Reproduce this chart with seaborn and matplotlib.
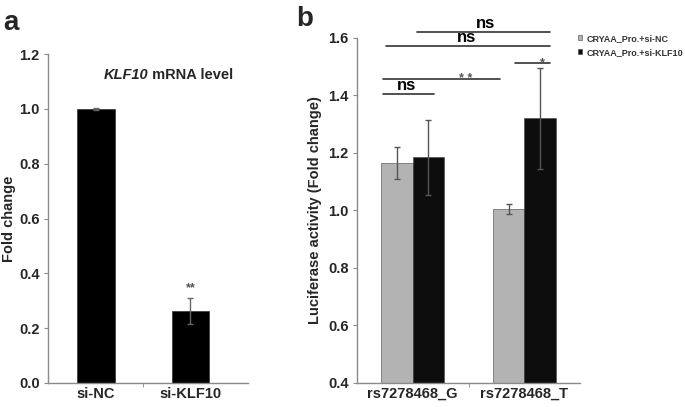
import pandas as pd
import numpy as np
import seaborn as sns
import matplotlib.pyplot as plt

# panel a data
groups_a = ["si-NC", "si-KLF10"]
fold_a = [1.0, 0.262]
err_a = [0.003, 0.047]

# panel b data
alleles = ["rs7278468_G", "rs7278468_T"]
conditions = ["CRYAA_Pro.+si-NC", "CRYAA_Pro.+si-KLF10"]
luc_nc = [1.165, 1.005]
luc_klf = [1.185, 1.32]
err_nc = [0.057, 0.018]
err_klf = [0.13, 0.175]

sns.set_style("white")
plt.rcParams['font.family'] = ['Liberation Sans', 'DejaVu Sans']
plt.rcParams['font.weight'] = 'bold'

fig = plt.figure(figsize=(6.85, 4.07), dpi=100)
ax1 = fig.add_axes([0.070, 0.059, 0.292, 0.808])
ax2 = fig.add_axes([0.521, 0.059, 0.326, 0.848])

spine_col = "#8a8a8a"

# ---- panel a ----
df_a = pd.DataFrame({"group": groups_a, "fold": fold_a})
sns.barplot(data=df_a, x="group", y="fold", color="black", width=0.4,
            errorbar=None, ax=ax1, edgecolor="#333333", linewidth=0.5)
ax1.errorbar(range(len(groups_a)), fold_a, yerr=err_a, fmt="none",
             ecolor="#666666", elinewidth=1, capsize=2.5, capthick=1)
ax1.set_ylim(0, 1.2)
ax1.set_xlim(-0.51, 1.61)
ax1.set_yticks(np.arange(0, 1.21, 0.2))
ax1.set_yticklabels([f"{v:.1f}" for v in np.arange(0, 1.21, 0.2)])
ax1.set_xlabel("")
ax1.set_ylabel("Fold change", fontsize=10.5, fontweight="bold")
ax1.yaxis.set_label_coords(-0.16, 0.5)
t1 = ax1.text(0.08, 1.11, "KLF10", fontsize=10.5, fontweight="bold", style="italic")
ax1.annotate(" mRNA level", xy=(1, 0), xycoords=t1, va="bottom",
             fontsize=10.5, fontweight="bold")
ax1.text(1, fold_a[1] + err_a[1] + 0.015, "**", ha="center", va="bottom",
         fontsize=9, color="#555555")

# ---- panel b ----
df_b = pd.DataFrame({
    "allele": alleles * 2,
    "condition": [conditions[0]] * 2 + [conditions[1]] * 2,
    "value": luc_nc + luc_klf,
})
sns.barplot(data=df_b, x="allele", y="value", hue="condition",
            palette=["#b3b3b3", "#0d0d0d"], width=0.56, errorbar=None,
            ax=ax2, edgecolor="#444444", linewidth=0.4)
vals = luc_nc + luc_klf
errs = err_nc + err_klf
bars = [p for p in ax2.patches if p.get_width() > 0][:4]
xs = [p.get_x() + p.get_width() / 2 for p in bars]
ax2.errorbar(xs, vals, yerr=errs, fmt="none", ecolor="#555555",
             elinewidth=1, capsize=2.5, capthick=1)
xg_nc, xt_nc, xg_k, xt_k = xs
ax2.set_ylim(0.4, 1.6)
ax2.set_xlim(-0.5, 1.5)
ax2.set_yticks(np.arange(0.4, 1.61, 0.2))
ax2.set_yticklabels([f"{v:.1f}" for v in np.arange(0.4, 1.61, 0.2)])
ax2.set_xlabel("")
ax2.set_ylabel("Luciferase activity (Fold change)", fontsize=10.5,
               fontweight="bold")
ax2.yaxis.set_label_coords(-0.157, 0.5)

# significance brackets
sig = [
    (xg_nc - 0.13, xg_k + 0.05, 1.405, "ns", 12, "black", -0.02, 0.012),
    (xg_nc - 0.13, xt_nc - 0.08, 1.457, "* *", 9, "#555555", 0.22, -0.010),
    (xt_k - 0.22, xt_k + 0.09, 1.513, "*", 9, "#555555", 0.09, -0.010),
    (xg_nc - 0.1, xt_k + 0.09, 1.572, "ns", 12, "black", -0.01, 0.012),
    (xg_k - 0.1, xt_k + 0.09, 1.622, "ns", 12, "black", 0.02, 0.012),
]
for x0, x1, y, lab, fs, col, dx, dy in sig:
    ax2.plot([x0, x1], [y, y], color="#333333", lw=1.2, clip_on=False)
    ax2.text((x0 + x1) / 2 + dx, y + dy, lab, ha="center", va="baseline",
             fontsize=fs, fontweight="bold", color=col, clip_on=False)

leg = ax2.legend(loc="upper left", bbox_to_anchor=(0.96, 1.03), frameon=False,
                 fontsize=6.5, handlelength=0.5, handleheight=0.5,
                 handletextpad=0.5, labelspacing=0.55, borderaxespad=0.3)
for txt in leg.get_texts():
    txt.set_fontweight("bold")
    txt.set_color("#333333")

for ax in (ax1, ax2):
    sns.despine(ax=ax)
    for s in ("left", "bottom"):
        ax.spines[s].set_color(spine_col)
        ax.spines[s].set_linewidth(1)
    ax.tick_params(axis="y", which="major", direction="out", length=3,
                   color=spine_col, labelsize=10.5, pad=3, left=True)
    ax.tick_params(axis="x", which="major", length=0, labelsize=10.5, pad=3)
    ax.set_xticks([0.5], minor=True)
    ax.tick_params(axis="x", which="minor", direction="out", length=3,
                   color=spine_col, bottom=True)
    for lab in ax.get_xticklabels() + ax.get_yticklabels():
        lab.set_fontweight("bold")

fig.text(0.005, 0.975, "a", fontsize=20, fontweight="bold", va="top")
fig.text(0.433, 0.985, "b", fontsize=20, fontweight="bold", va="top")

fig.savefig("out.png", dpi=100)
